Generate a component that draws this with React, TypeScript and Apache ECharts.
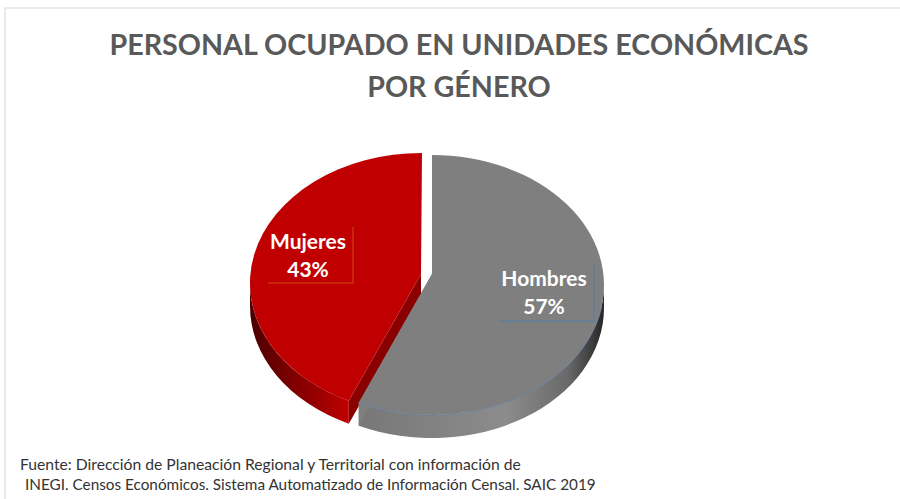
import React, { useEffect, useRef } from "react";
import * as echarts from "echarts";

const categories = ["Mujeres", "Hombres"];
const values = [43, 57];
const titleText = "PERSONAL OCUPADO EN UNIDADES ECONÓMICAS\nPOR GÉNERO";
const sourceLines = [
  "Fuente: Dirección de Planeación Regional y Territorial con información de",
  "INEGI. Censos Económicos. Sistema Automatizado de Información Censal. SAIC 2019",
];

const RX = 172;
const RY = 130;
const DEPTH = 23;
const FONT = "Lato";

const looks = [
  {
    cx: 422, cy: 283, ax: 421, ay: 274,
    top: "#c00000", face: "#8a0000",
    wall: [[0, "#4a0000"], [0.35, "#750000"], [0.75, "#a00000"], [1, "#c00000"]],
    label: [308, 254], box: [[353, 227], [353, 283], [268, 283]], boxColor: "#c9320a",
  },
  {
    cx: 432, cy: 285, ax: 432, ay: 274,
    top: "#7f7f7f", face: "#7f7f7f",
    wall: [[0, "#777777"], [0.6, "#8c8c8c"], [0.85, "#6a6a6a"], [1, "#262626"]],
    label: [544, 291], box: [[594, 264], [594, 321], [499, 321]], boxColor: "#5f7d9c",
  },
];

const pt = (l: any, t: number, dy = 0) => {
  const r = (t * Math.PI) / 180;
  return [l.cx + RX * Math.sin(r), l.cy - RY * Math.cos(r) + dy];
};
const arc = (t0: number, t1: number, sweep: number) =>
  (p: number[]) => `A${RX} ${RY} 0 ${Math.abs(t1 - t0) > 180 ? 1 : 0} ${sweep} ${p[0]} ${p[1]}`;

function renderSlice(params: any, api: any) {
  const i = params.dataIndex;
  const total = values.reduce((a, b) => a + b, 0);
  const before = values.slice(0, i).reduce((a, b) => a + b, 0);
  const value = api.value(0);
  const t1 = 360 - (before / total) * 360;
  const t0 = t1 - (value / total) * 360;
  const l = looks[i];
  const pS = pt(l, t0);
  const pE = pt(l, t1);
  const topPath = `M${l.ax} ${l.ay}L${pS[0]} ${pS[1]}${arc(t0, t1, 1)(pE)}Z`;

  const w0 = Math.max(t0, 90);
  const w1 = Math.min(t1, 270);
  const a0 = pt(l, w0);
  const a1 = pt(l, w1);
  const b0 = pt(l, w0, DEPTH);
  const b1 = pt(l, w1, DEPTH);
  const wallPath = `M${a0[0]} ${a0[1]}${arc(w0, w1, 1)(a1)}L${b1[0]} ${b1[1]}${arc(w0, w1, 0)(b0)}Z`;

  const cutEnd = i === 0 ? pS : pE;
  const facePath = `M${l.ax} ${l.ay}L${cutEnd[0]} ${cutEnd[1]}L${cutEnd[0]} ${cutEnd[1] + DEPTH}L${l.ax} ${l.ay + DEPTH}Z`;

  const children: any[] = [
    {
      type: "path",
      shape: { pathData: wallPath },
      style: {
        fill: new echarts.graphic.LinearGradient(0, 0, 1, 0,
          l.wall.map((s: any) => ({ offset: s[0], color: s[1] }))),
      },
    },
    { type: "path", shape: { pathData: facePath }, style: { fill: l.face } },
    { type: "path", shape: { pathData: topPath }, style: { fill: l.top } },
  ];
  if (i === 1) {
    const e0 = pt(l, 100);
    const e1 = pt(l, t1);
    children.push({
      type: "path",
      shape: { pathData: `M${e0[0]} ${e0[1]}${arc(100, t1, 1)(e1)}` },
      style: { fill: "none", stroke: "#6b7f97", lineWidth: 1.2, opacity: 0.8 },
    });
  }
  children.push({
    type: "polyline",
    shape: { points: l.box },
    style: { fill: "none", stroke: l.boxColor, lineWidth: 2, opacity: 0.75 },
  });
  children.push({
    type: "text",
    style: {
      x: l.label[0],
      y: l.label[1],
      text: `${categories[i]}\n${value}%`,
      fill: "#ffffff",
      font: `bold 21px ${FONT}`,
      lineHeight: 28,
      align: "center",
      verticalAlign: "middle",
    },
  });
  return { type: "group", children };
}

export default function App() {
  const ref = useRef<HTMLDivElement>(null);
  useEffect(() => {
    document.body.style.margin = "0";
    const chart = echarts.init(ref.current!, undefined, { renderer: "svg" });
    chart.setOption({
      animation: false,
      backgroundColor: "#ffffff",
      title: {
        text: titleText,
        left: 454,
        top: 18,
        textAlign: "center",
        textStyle: {
          fontFamily: FONT,
          fontWeight: "bold",
          fontSize: 28.7,
          lineHeight: 42,
          color: "#595959",
        },
      },
      graphic: [
        {
          type: "polyline",
          shape: { points: [[5, 499], [5, 8], [900, 8]] },
          style: { fill: "none", stroke: "#e4e4e4", lineWidth: 1.5 },
        },
        {
          type: "text",
          x: 20,
          y: 456,
          style: { text: sourceLines[0], font: `15.7px ${FONT}`, fill: "#333333" },
        },
        {
          type: "text",
          x: 25,
          y: 476,
          style: { text: sourceLines[1], font: `15.3px ${FONT}`, fill: "#333333" },
        },
      ],
      series: [
        {
          type: "custom",
          coordinateSystem: "none",
          renderItem: renderSlice,
          data: values.map((v) => [v]),
        },
      ],
    });
    return () => chart.dispose();
  }, []);
  return <div ref={ref} style={{ width: 900, height: 499 }} />;
}
